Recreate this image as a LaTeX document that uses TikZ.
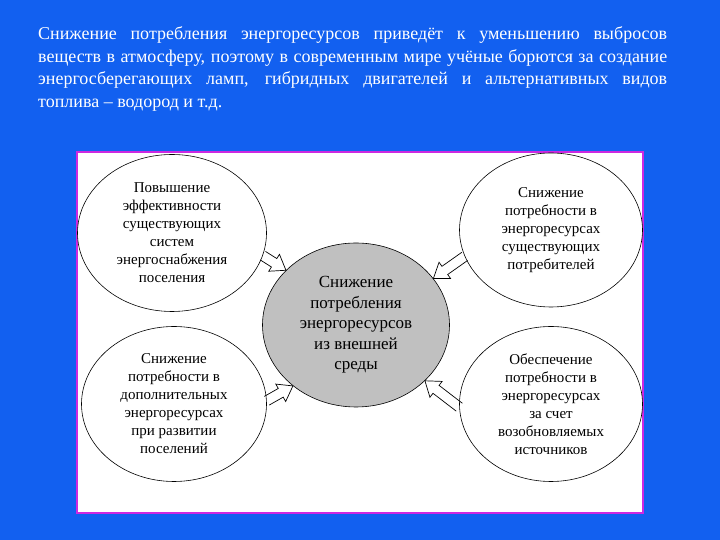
\documentclass[tikz,border=0pt]{standalone}
\usepackage{fontspec}
\setmainfont{Liberation Serif}
\usetikzlibrary{shapes.geometric,calc}
\definecolor{slideblue}{RGB}{18,96,240}
\definecolor{framepink}{RGB}{205,40,225}
\definecolor{hubgray}{RGB}{192,192,192}
\hyphenpenalty=10000
\exhyphenpenalty=10000
\begin{document}
\begin{tikzpicture}[x=1pt,y=1pt,
        side/.style={ellipse,draw,line width=0.6pt,fill=white,inner sep=0pt,align=center,
            font=\fontsize{15}{18}\selectfont},
        hollow/.style={draw,line width=0.7pt,line join=miter}]
        \fill[slideblue] (0,0) rectangle (720,540);
        \node[text=white,text width=629pt,align=justify,anchor=north west,inner sep=0pt,
            font=\fontsize{18}{22.5}\selectfont] (intro) at (38,513.5)
            {Снижение потребления энергоресурсов приведёт к уменьшению выбросов\linebreak
            веществ в атмосферу, поэтому в современным мире учёные борются за создание\linebreak
            энергосберегающих ламп, гибридных двигателей и альтернативных видов\linebreak
            топлива – водород и т.д.};
        \draw[framepink,line width=1.5pt,fill=white] (77,27) rectangle (643,388);
        \node[side,minimum width=189pt,minimum height=157pt] (tl) at (172,307)
            {Повышение\\эффективности\\существующих\\систем\\энергоснабжения\\поселения};
        \node[side,minimum width=183pt,minimum height=154pt] (tr) at (551,310)
            {Снижение\\потребности в\\энергоресурсах\\существующих\\потребителей};
        \node[side,minimum width=185pt,minimum height=155pt] (bl) at (174,136)
            {Снижение\\потребности в\\дополнительных\\энергоресурсах\\при развитии\\поселений};
        \node[side,minimum width=183pt,minimum height=155pt] (br) at (551,136)
            {Обеспечение\\потребности в\\энергоресурсах\\за счет\\возобновляемых\\источников};
        \node[side,fill=hubgray,minimum width=187pt,minimum height=164pt,
            font=\fontsize{17}{20.5}\selectfont] (mid) at (356,215)
            {Снижение\\потребления\\энергоресурсов\\из внешней\\среды};
        % hollow arrows towards the centre
        \foreach \s/\t in {tl.-14/mid.142, tr.-163/mid.31, bl.2/mid.224, br.182/mid.-39}{
            \coordinate (s) at (\s);
            \coordinate (t) at (\t);
            \coordinate (h) at ($(t)!14pt!(s)$);
            \draw[hollow] ($(s)!5pt!90:(t)$) -- ($(h)!5pt!90:(t)$) -- ($(h)!10pt!90:(t)$) -- (t)
                -- ($(h)!10pt!-90:(t)$) -- ($(h)!5pt!-90:(t)$) -- ($(s)!5pt!-90:(t)$);
        }
\end{tikzpicture}
\end{document}
